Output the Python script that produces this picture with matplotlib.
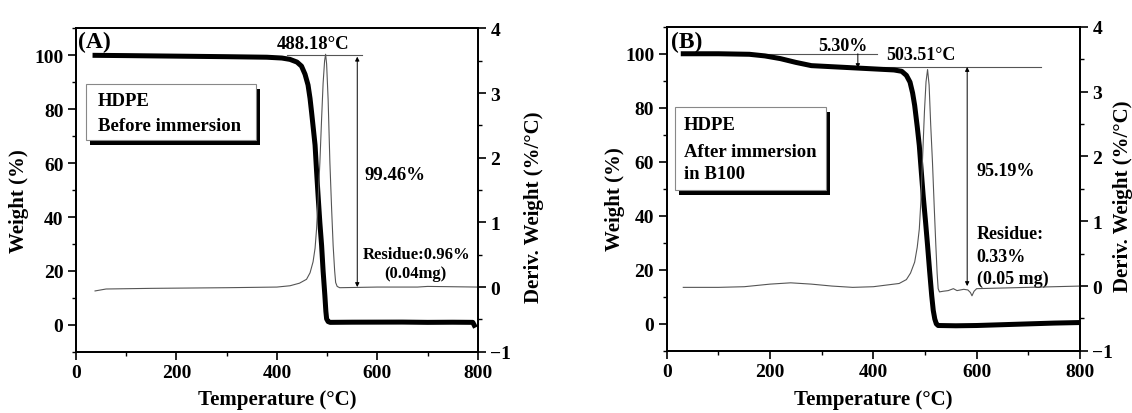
import matplotlib
matplotlib.use("Agg")
import matplotlib.pyplot as plt
from matplotlib.patches import Rectangle
from matplotlib.ticker import MultipleLocator

plt.rcParams['font.family'] = ['Liberation Serif', 'DejaVu Serif']
plt.rcParams['font.weight'] = 'bold'

# --- Panel A: before immersion ---
temp_w_a = [38, 100, 200, 300, 380, 410, 426, 440, 449, 456, 462, 466, 469, 473, 476,
            479, 482, 485.5, 489, 492, 495.5, 497.5, 499, 502, 506, 550, 650, 700, 750, 790, 793]
weight_a = [100.0, 99.9, 99.7, 99.5, 99.3, 99.0, 98.5, 97.5, 96.0, 93, 89, 84, 79, 72, 66.7,
            57, 48, 38, 29.5, 20, 10.9, 5, 2.2, 1.2, 0.9, 0.96, 1.0, 0.9, 0.95, 0.9, -0.2]
temp_d_a = [38, 60, 150, 300, 400, 426, 445, 459, 466, 472, 476, 479, 482, 485.6, 489, 492,
            495, 497, 499, 502, 505.5, 509, 512, 515, 517, 520, 525, 600, 680, 700, 800]
deriv_a = [-0.06, -0.03, -0.02, -0.01, 0.0, 0.02, 0.06, 0.12, 0.22, 0.39, 0.6, 0.9, 1.35, 1.93, 2.6, 3.15,
           3.5, 3.6, 3.45, 2.9, 1.93, 1.2, 0.64, 0.25, 0.07, 0.01, -0.01, 0.0, 0.0, 0.01, 0.0]

# --- Panel B: after immersion in B100 ---
temp_w_b = [32, 100, 160, 190, 220, 250, 280, 310, 370, 400, 440, 455, 464, 471, 476, 480, 485,
            489, 493, 496.5, 501, 505, 509, 513, 516, 519, 522, 525.5, 560, 600, 650, 700, 750, 800]
weight_b = [100.0, 100.0, 99.8, 99.2, 98.2, 96.8, 95.6, 95.3, 94.7, 94.4, 94.0, 93.5, 92, 89.5, 85.5, 80.9, 73,
            66, 56, 47.5, 38, 29, 19.5, 10.5, 5, 1.8, 0.0, -0.6, -0.7, -0.6, -0.3, 0.0, 0.3, 0.5]
temp_d_b = [32, 100, 150, 200, 240, 280, 320, 360, 400, 430, 450, 464, 472, 480, 485, 489, 492, 495,
            499, 502, 505, 508, 511, 514.5, 518, 521, 523.5, 525.5, 528, 535, 545, 555, 562, 575, 583,
            588, 591, 595, 600, 650, 700, 750, 800]
deriv_b = [-0.02, -0.02, -0.01, 0.03, 0.05, 0.03, 0.0, -0.02, -0.01, 0.02, 0.04, 0.1, 0.2, 0.37, 0.6, 0.88, 1.3, 1.91,
           2.7, 3.15, 3.34, 3.1, 2.5, 1.91, 1.2, 0.63, 0.2, -0.04, -0.09, -0.08, -0.07, -0.04, -0.07, -0.05, -0.06,
           -0.1, -0.15, -0.08, -0.04, -0.03, -0.02, -0.01, 0.0]

FS_TICK = 14
FS_LABEL = 15
FS_NOTE = 13.5


def setup(ax, ax2, lab_x, xlab_y, rlab_x, rlab_y):
    ax.set_xlim(0, 800)
    ax.set_ylim(-10, 110)
    ax2.set_ylim(-1, 4)
    ax.xaxis.set_major_locator(MultipleLocator(200))
    ax.xaxis.set_minor_locator(MultipleLocator(100))
    ax.yaxis.set_major_locator(MultipleLocator(20))
    ax.yaxis.set_minor_locator(MultipleLocator(10))
    ax2.yaxis.set_major_locator(MultipleLocator(1))
    ax2.yaxis.set_minor_locator(MultipleLocator(0.5))
    ax.tick_params(which='major', direction='out', length=6, width=1.2, labelsize=FS_TICK, pad=3)
    ax.tick_params(which='minor', direction='out', length=3, width=1.0)
    ax2.tick_params(which='major', direction='out', length=6, width=1.2, labelsize=FS_TICK, pad=3)
    ax2.tick_params(which='minor', direction='out', length=3, width=1.0)
    for a in (ax, ax2):
        for s in a.spines.values():
            s.set_linewidth(1.3)
        for lab in a.get_xticklabels() + a.get_yticklabels():
            lab.set_fontweight('bold')
    ax.set_xlabel("Temperature (°C)", fontsize=FS_LABEL, fontweight='bold')
    ax.set_ylabel("Weight (%)", fontsize=FS_LABEL, fontweight='bold')
    ax2.set_ylabel("Deriv. Weight (%/°C)", fontsize=FS_LABEL, fontweight='bold')
    ax.xaxis.set_label_coords(0.5, xlab_y)
    ax.yaxis.set_label_coords(lab_x, 0.47)
    ax2.yaxis.set_label_coords(rlab_x, rlab_y)


def box(ax, x0, x1, y0, y1, lines, tx, ty):
    # black drop shadow then white box with grey border
    ax.add_patch(Rectangle((x0 + 8, y0 - 1.8), x1 - x0, y1 - y0, facecolor='black',
                           edgecolor='black', lw=0, zorder=4))
    ax.add_patch(Rectangle((x0, y0), x1 - x0, y1 - y0, facecolor='white',
                           edgecolor='#888888', lw=0.8, zorder=5))
    for t, yy in zip(lines, ty):
        ax.text(tx, yy, t, fontsize=FS_NOTE, fontweight='bold', ha='left', va='center', zorder=6)


def darrow(ax, x, y0, y1, both=True):
    style = '<|-|>' if both else '-|>'
    ax.annotate('', xy=(x, y1), xytext=(x, y0),
                arrowprops=dict(arrowstyle=style, color='black', lw=0.7,
                                mutation_scale=6, shrinkA=0, shrinkB=0))


fig = plt.figure(figsize=(11.32, 4.14), dpi=100)

# Panel A
axa = fig.add_axes([0.0671, 0.148, 0.355, 0.781])
axa2 = axa.twinx()
axa.plot(temp_w_a, weight_a, color='black', lw=3.6, zorder=3)
axa2.plot(temp_d_a, deriv_a, color='#555555', lw=0.8)
setup(axa, axa2, -0.117, -0.115, 1.115, 0.45)
axa.text(4, 105, "(A)", fontsize=17, fontweight='bold', ha='left', va='center')
axa.text(472, 104.5, "488.18°C", fontsize=FS_NOTE, fontweight='bold', ha='center', va='center')
axa.plot([420, 569], [100, 100], color='#555555', lw=0.8)
darrow(axa, 560, 14, 99.5)
axa.text(575, 55.8, "99.46%", fontsize=FS_NOTE, fontweight='bold', ha='left', va='center')
axa.text(679, 26.4, "Residue:0.96%", fontsize=12, fontweight='bold', ha='center', va='center')
axa.text(675, 19.3, "(0.04mg)", fontsize=12, fontweight='bold', ha='center', va='center')
box(axa, 20, 358, 68.4, 89.2, ["HDPE", "Before immersion"], 43, [83.3, 74])

# Panel B
axb = fig.add_axes([0.589, 0.150, 0.365, 0.783])
axb2 = axb.twinx()
axb.plot(temp_w_b, weight_b, color='black', lw=3.6, zorder=3)
axb2.plot(temp_d_b, deriv_b, color='#555555', lw=0.8)
setup(axb, axb2, -0.10, -0.117, 1.08, 0.48)
axb.text(8, 104.4, "(B)", fontsize=17, fontweight='bold', ha='left', va='center')
axb.plot([161, 407], [100, 100], color='#555555', lw=0.8)
darrow(axb, 370, 100, 94.7, both=False)
axb.text(341, 103, "5.30%", fontsize=13, ha='center', va='center')
axb.text(492, 99.6, "503.51°C", fontsize=13, ha='center', va='center')
axb.plot([420, 724], [95.1, 95.1], color='#555555', lw=0.8)
darrow(axb, 581.7, 14, 95.1)
axb.text(599, 56.7, "95.19%", fontsize=13, ha='left', va='center')
axb.text(600, 33.3, "Residue:", fontsize=13, ha='left', va='center')
axb.text(600, 24.8, "0.33%", fontsize=13, ha='left', va='center')
axb.text(600, 16.7, "(0.05 mg)", fontsize=13, ha='left', va='center')
box(axb, 15.5, 308, 49.6, 80.4, ["HDPE", "After immersion", "in B100"], 33, [73.7, 64, 55.6])

fig.savefig("out.png", dpi=100)
